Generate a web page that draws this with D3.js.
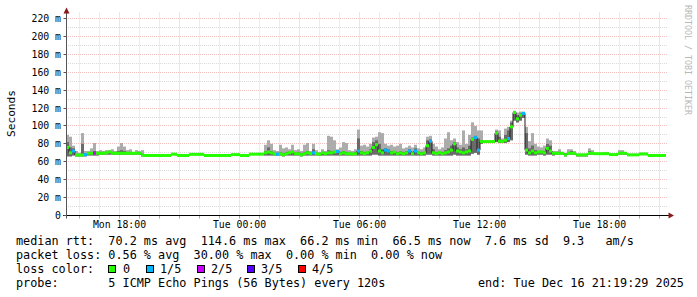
<!DOCTYPE html>
<html><head><meta charset="utf-8">
<script src="https://cdn.jsdelivr.net/npm/d3@7"></script>
<style>html,body{margin:0;padding:0;background:#fff;overflow:hidden}</style>
</head><body><svg id="c" width="697" height="297"></svg>
<script>
// ---- data (9-minute steps, start Mon Dec 15 15:19:29 2025) ----
const stepMinutes = 9;
const median = [
76,70,72,67.5,67.5,67.5,68,69.5,69.5,69.5,
69.5,69.5,69.5,70,71,69.5,69.5,69.5,69.5,69.5,
69.5,69.5,69.5,69.5,69.5,67.5,67,67,67,67,
67,67,67,67,67,68.5,68.5,67,67,67,
67,68.3,68.3,68.3,68.3,68.3,67,67,67,67,
67,67,67,67,67,68,68,68,67,67,
67,68.5,68.5,68.5,68.5,68.5,70,71,70,68.5,
68.5,69,68,69,70,71,69,69,68,69,
70,69,70,69,68.5,70,69,70,70,71,
71.5,69,70,69,69,68.5,69,72,70,69,
70,72,76,79,72,70,73,72,70,71,
69,70,69,70,72,69,72,70,69,70,
78,83,70,69,70,69,70,71,73,80,
72,71,70,71,72,85,87,73,82.5,82.5,
82.5,82.5,82.5,92,83,82.5,84,86,99,115,
108,112,114,73,70,72,70,71,71,70,
75,72,69.5,69.5,69.5,69.5,67.7,69.5,69.5,69.5,
67.7,67.7,67.7,67.7,69.5,69.5,69,69,69,69,
69,68,68,68,69.5,69.5,69.5,67.7,67.7,67.7,
67.7,68.7,68.7,68.7,67,67,67,67,67,67];
const pingMax = [
90,88,78,72,70,92,72,72,75,81,
72,73,72,73,73,74,72,77,81,77,
73,74,71,73,72,73,68,68,68,68,
68,68,68,68,68,69,69,68,68,68,
68,69,69,69,69,69,68,68,68,68,
68,68,68,68,68,69,69,69,68,68,
68,69,69,69,69,69,79,84,80,73,
72,79,75,76,74,79,73,74,72,79,
81,72,80,73,71,74,72,89,88,84,
74,76,82,81,73,72,74,96,78,79,
77,80,87,88,93,92,80,78,79,77,
78,80,75,76,78,76,79,75,74,76,
88,89,80,77,74,76,86,93,84,86,
82,79,95,80,90,104,100,95,95,84,
84,84,84,96,95,86,97,99,106,117,
115,116,116,99,83,92,80,77,76,78,
86,84,72,72,74,71,70,74,74,72,
69,69,69,69,75,73,70,70,70,71,
71,69,69,69,73,73,71,69,69,69,
69,70,70,70,68,68,68,68,68,68];
const pingUpper = [
82,76,75,68,68,80,69,70,71,72,
70,71,71,71,72,71,71,72,73,72,
71,71,70,71,70,68,67.5,67.5,67.5,67.5,
67.5,67.5,67.5,67.5,67.5,69,69,67.5,67.5,67.5,
67.5,68.8,68.8,68.8,68.8,68.8,67.5,67.5,67.5,67.5,
67.5,67.5,67.5,67.5,67.5,68.5,68.5,68.5,67.5,67.5,
67.5,69,69,69,69,69,72,76,72,70,
70,71,70,71,71,72,70,71,70,71,
72,70,74,70,69,71,70,73,72,72,
72,71,72,71,70,70,71,86,72,71,
71,74,82,84,80,74,75,74,72,72,
71,72,71,72,74,71,75,71,71,71,
84,85,74,71,71,71,73,75,78,82,
76,74,76,74,78,87,89,86,84,83,
83,83,83,94,88,84,90,95,104,116,
112,114,115,92,75,78,73,72,72,72,
80,78,70,70,71,70,69,71,72,70,
68,68,68,68,72,71,69.5,69.5,69.5,69.5,
69.5,68.5,68.5,68.5,71,71,70,68,68,68,
68,69,69,69,67.5,67.5,67.5,67.5,67.5,67.5];
const pingMin = [
66,66,67,66,66,66,66,67,67,67,
67,68,68,68,68,68,68,68,68,68,
68,68,68,68,68,66,66.5,66.5,66.5,66.5,
66.5,66.5,66.5,66.5,66.5,67.5,67.5,66.5,66.5,66.5,
66.5,67.5,67.5,67.5,67.5,67.5,66.5,66.5,66.5,66.5,
66.5,66.5,66.5,66.5,66.5,67,67,67,66.5,66.5,
66.5,67.5,67.5,67.5,67.5,67.5,67,67,67,67,
67,67,66,67,67,67,67,67,66,67,
67,67,67,67,67,67,67,67,67,67,
67,67,67,67,67,67,67,67,67,67,
67,67,68,68,67,67,67,67,67,67,
67,67,67,67,67,67,67,67,67,67,
68,68,67,67,67,67,67,67,67,68,
67,67,67,67,67,69,70,68,80,81,
81,81,81,82,81,81,81,82,84,106,
104,106,109,68,67,67,67,68,68,67,
68,68,67,68,68,68,66,68,68,68,
66,66,66,66,68,68,68,68,68,68,
68,67,67,67,68,68,68,66.5,66.5,66.5,
66.5,67.5,67.5,67.5,66.5,66.5,66.5,66.5,66.5,66.5];
const lossCount = [
0,0,1,0,0,0,1,0,0,2,
0,0,0,0,0,0,0,0,0,0,
0,0,0,0,0,0,0,0,0,0,
0,0,0,0,0,0,0,0,0,0,
0,0,0,0,0,0,0,0,0,0,
0,0,0,0,0,0,0,0,0,0,
0,0,0,0,0,0,0,0,0,0,
1,0,0,0,0,0,0,0,0,0,
0,0,1,0,0,0,0,0,0,0,
1,0,0,0,0,0,0,1,0,0,
0,0,0,0,0,0,1,1,0,0,
0,0,0,0,1,0,1,0,0,0,
0,1,0,0,0,0,0,0,0,0,
0,0,0,0,0,0,1,1,0,0,
0,0,0,0,0,0,0,1,0,0,
0,0,1,0,0,0,0,0,0,0,
0,0,0,0,0,0,0,0,0,0,
0,0,0,0,0,0,0,0,0,0,
0,0,0,0,0,0,0,0,0,0,
0,0,0,0,0,0,0,0,0,0];
const lossLabels = ["0","1/5","2/5","3/5","4/5"];
const lossColors = ["#26ff00","#00b8ff","#cc00ff","#5500ff","#ff0000"];
const yTicks = [0,20,40,60,80,100,120,140,160,180,200,220];
const legendLines = [
  "median rtt:  70.2 ms avg  114.6 ms max  66.2 ms min  66.5 ms now  7.6 ms sd  9.3   am/s",
  "packet loss: 0.56 % avg  30.00 % max  0.00 % min  0.00 % now"
];
const probeText = "probe:       5 ICMP Echo Pings (56 Bytes) every 120s";
const endText = "end: Tue Dec 16 21:19:29 2025";
const lossTitle = "loss color:";
const yTitle = "Seconds";
const watermark = "RRDTOOL / TOBI OETIKER";

// ---- drawing ----
const svg = d3.select("#c");
svg.append("rect").attr("width",697).attr("height",297).attr("fill","#fff");
const mono = "'DejaVu Sans Mono', monospace";
const t0 = new Date(2025,11,15,15,19,29), t1 = new Date(2025,11,16,21,19,29);
const x = d3.scaleTime().domain([t0,t1]).range([66,666]);
const y = d3.scaleLinear().domain([0,220]).range([215.5,18.5]);
const plotTop = 12.5, plotRight = 668;
const gy = v => Math.floor(y(v)) + 0.5;
const times = d3.range(median.length + 1).map(i => d3.timeMinute.offset(t0, i*stepMinutes));
const majorCol = "rgba(224,90,90,0.38)", minorCol = "#dadada";

const grid = svg.append("g");
d3.range(10,221,10).forEach(v => {
  const major = v % 20 === 0;
  grid.append("line").attr("x1",66).attr("x2",plotRight).attr("y1",gy(v)).attr("y2",gy(v))
    .attr("stroke", major ? majorCol : minorCol)
    .attr("stroke-dasharray","1,1");
});
x.ticks(d3.timeHour.every(1)).forEach(t => {
  const major = t.getHours() % 3 === 0;
  const xx = Math.round(x(t) - 0.5) + 0.5;
  grid.append("line").attr("x1",xx).attr("x2",xx).attr("y1",plotTop).attr("y2",215)
    .attr("stroke", major ? majorCol : minorCol)
    .attr("stroke-dasharray","1,1");
  svg.append("line").attr("x1",xx).attr("x2",xx).attr("y1",216).attr("y2",218.5)
    .attr("stroke", major ? "rgba(200,60,60,0.6)" : "#aaa");
});

// smoke
const smoke = svg.append("g");
median.forEach((m,i) => {
  const xa = x(times[i]), xb = x(times[i+1]);
  smoke.append("rect").attr("x",xa).attr("width",xb-xa)
    .attr("y",y(pingMax[i])).attr("height",Math.max(0,y(pingMin[i])-y(pingMax[i])))
    .attr("fill","#acacac");
  smoke.append("rect").attr("x",xa).attr("width",xb-xa)
    .attr("y",y(pingUpper[i])).attr("height",Math.max(0,y(pingMin[i])-y(pingUpper[i])))
    .attr("fill","#6a6a6a");
});
// thin median line
const pts = median.map((m,i)=>[x(times[i]), y(m)]);
pts.push([x(times[median.length]), y(median[median.length-1])]);
svg.append("path").attr("d", d3.line().curve(d3.curveStepAfter)(pts))
  .attr("fill","none").attr("stroke","#202020").attr("stroke-width",1);
// coloured median by loss
const med = svg.append("g");
median.forEach((m,i) => {
  med.append("line").attr("x1",x(times[i])).attr("x2",x(times[i+1]))
    .attr("y1",y(m)).attr("y2",y(m))
    .attr("stroke",lossColors[lossCount[i]]).attr("stroke-width",3);
});

// axes
svg.append("line").attr("x1",63).attr("x2",669).attr("y1",215.5).attr("y2",215.5).attr("stroke","#000");
svg.append("line").attr("x1",66.5).attr("x2",66.5).attr("y1",218.5).attr("y2",11).attr("stroke","#555");
yTicks.forEach(v=>{
  svg.append("line").attr("x1",63.5).attr("x2",66).attr("y1",gy(v)).attr("y2",gy(v)).attr("stroke","#555");
});
svg.append("polygon").attr("points","63.5,13.5 69.5,13.5 66.5,7.5").attr("fill","#8b1a1a");
svg.append("polygon").attr("points","668.5,212.5 668.5,218.5 674,215.5").attr("fill","#8b1a1a");

// y labels
yTicks.forEach(v=>{
  svg.append("text").attr("x",61).attr("y",gy(v)).attr("dy","0.36em")
    .attr("text-anchor","end").attr("font-family",mono).attr("font-size","9.8px").attr("fill","#000")
    .attr("xml:space","preserve").style("white-space","pre")
    .text(v===0 ? "0" : v+" m");
});
// x labels
const fmt = d3.timeFormat("%a %H:%M");
x.ticks(d3.timeHour.every(6)).forEach(t=>{
  svg.append("text").attr("x",x(t)).attr("y",228).attr("text-anchor","middle")
    .attr("font-family",mono).attr("font-size","9.8px").attr("fill","#000").text(fmt(t));
});
// y title
svg.append("text").attr("transform","translate(15,113.5) rotate(-90)").attr("text-anchor","middle")
  .attr("font-family",mono).attr("font-size","11.2px").attr("fill","#000").text(yTitle);
// watermark
svg.append("text").attr("transform","translate(685,5) rotate(90)").attr("text-anchor","start")
  .attr("font-family",mono).attr("font-size","8.3px").attr("fill","#b8b8b8").text(watermark);

// legend
const lf = "11.8px";
const addText = (s,xx,yy) => svg.append("text").attr("x",xx).attr("y",yy)
  .attr("font-family",mono).attr("font-size",lf).attr("fill","#000")
  .attr("xml:space","preserve").style("white-space","pre").text(s);
legendLines.forEach((s,i)=> addText(s,16,245+14*i));
addText(lossTitle,16,273);
const boxX = [108,146,197,247,298], labX = [123,160,211,261,312];
lossLabels.forEach((l,i)=>{
  svg.append("rect").attr("x",boxX[i]+0.5).attr("y",265.5).attr("width",7).attr("height",7)
    .attr("fill",lossColors[i]).attr("stroke","#000").attr("stroke-width",1);
  addText(l,labX[i],273);
});
addText(probeText,16,287);
addText(endText,478,287);
</script></body></html>
